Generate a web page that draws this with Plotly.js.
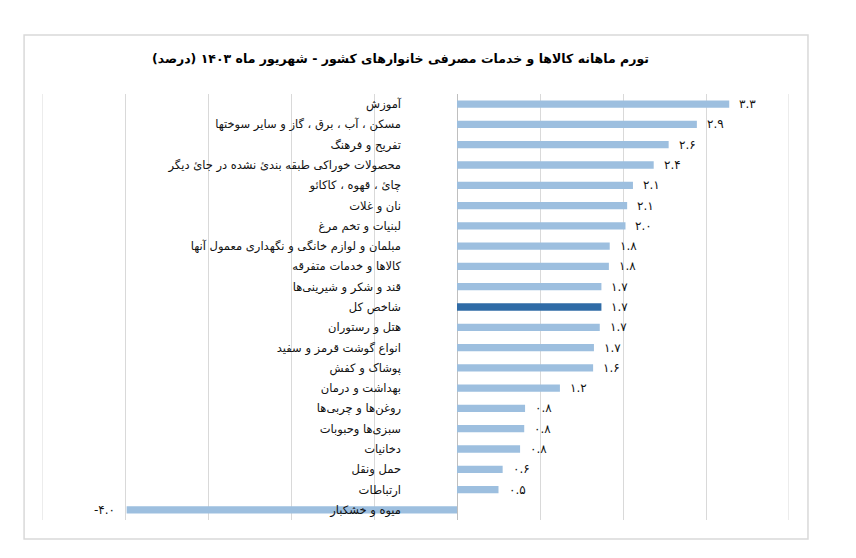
<!DOCTYPE html>
<html>
<head>
<meta charset="utf-8">
<script src="https://cdn.plot.ly/plotly-3.0.1.min.js"></script>
<style>html,body{margin:0;padding:0;background:#fff;}#chart{width:856px;height:558px;}</style>
</head>
<body>
<div id="chart"></div>
<script>
const categories = [
  "آموزش",
  "مسکن ، آب ، برق ، گاز و سایر سوختها",
  "تفریح و فرهنگ",
  "محصولات خوراکی طبقه بندئ نشده در جائ دیگر",
  "چائ ، قهوه ، کاکائو",
  "نان و غلات",
  "لبنیات و تخم مرغ",
  "مبلمان و لوازم خانگی و نگهداری معمول آنها",
  "کالاها و خدمات متفرقه",
  "قند و شکر و شیرینی‌ها",
  "شاخص کل",
  "هتل و رستوران",
  "انواع گوشت قرمز و سفید",
  "پوشاک و کفش",
  "بهداشت و درمان",
  "روغن‌ها و چربی‌ها",
  "سبزی‌ها وحبوبات",
  "دخانیات",
  "حمل ونقل",
  "ارتباطات",
  "میوه و خشکبار"
];
const values = [3.28, 2.89, 2.55, 2.37, 2.12, 2.05, 2.03, 1.84, 1.83, 1.74, 1.74, 1.72, 1.65, 1.64, 1.24, 0.82, 0.81, 0.76, 0.55, 0.5, -3.98];
const valueLabels = ["۳.۳", "۲.۹", "۲.۶", "۲.۴", "۲.۱", "۲.۱", "۲.۰", "۱.۸", "۱.۸", "۱.۷", "۱.۷", "۱.۷", "۱.۷", "۱.۶", "۱.۲", "۰.۸", "۰.۸", "۰.۸", "۰.۶", "۰.۵", "-۴.۰"];
const highlight = "شاخص کل";
const titleText = "تورم ماهانه کالاها و خدمات مصرفی خانوارهای کشور - شهریور ماه ۱۴۰۳ (درصد)";
const xRange = [-5, 4];

const colors = categories.map(c => c === highlight ? "#2F6BA6" : "#9DBFDF");

const trace = {
  type: "bar",
  orientation: "h",
  x: values,
  y: categories,
  marker: {color: colors},
  width: 0.36,
  hoverinfo: "none"
};

const annotations = values.map((v, i) => ({
  x: v, y: categories[i], xref: "x", yref: "y",
  text: valueLabels[i],
  showarrow: false,
  xanchor: v >= 0 ? "left" : "right",
  xshift: v >= 0 ? 8 : -10,
  font: {family: "DejaVu Sans", size: 12, color: "#111"}
}));
annotations.push({
  xref: "paper", yref: "paper", x: 0.48, y: 1.083,
  xanchor: "center", yanchor: "middle",
  text: "<b>" + titleText + "</b>", showarrow: false,
  font: {family: "DejaVu Sans", size: 12.5, color: "#000"}
});

const edgeLines = xRange.map(xv => ({
  type: "line", xref: "x", yref: "paper", x0: xv, x1: xv, y0: 0, y1: 1,
  line: {color: "#D9D9D9", width: 1}, layer: "below"
}));

const layout = {
  width: 856, height: 558,
  margin: {l: 42, r: 67, t: 94, b: 38},
  paper_bgcolor: "#fff", plot_bgcolor: "#fff",
  showlegend: false,
  xaxis: {
    range: xRange, dtick: 1, tick0: 0,
    showgrid: true, gridcolor: "#D9D9D9", gridwidth: 1,
    zeroline: true, zerolinecolor: "#BFBFBF", zerolinewidth: 1,
    showticklabels: false, ticks: "", showline: false
  },
  yaxis: {
    type: "category", autorange: "reversed",
    anchor: "free", position: 5/9, side: "left",
    showgrid: false, zeroline: false, showline: false, ticks: "",
    ticklabelstandoff: 56, automargin: false,
    tickfont: {family: "DejaVu Sans", size: 11.5, color: "#111"}
  },
  shapes: [{
    type: "rect", xref: "paper", yref: "paper",
    x0: -0.024, x1: 1.0254, y0: -0.0446, y1: 1.1385,
    line: {color: "#D9D9D9", width: 1.5}, layer: "below"
  }].concat(edgeLines),
  annotations: annotations
};

Plotly.newPlot("chart", [trace], layout, {displayModeBar: false, staticPlot: true});
</script>
</body>
</html>
